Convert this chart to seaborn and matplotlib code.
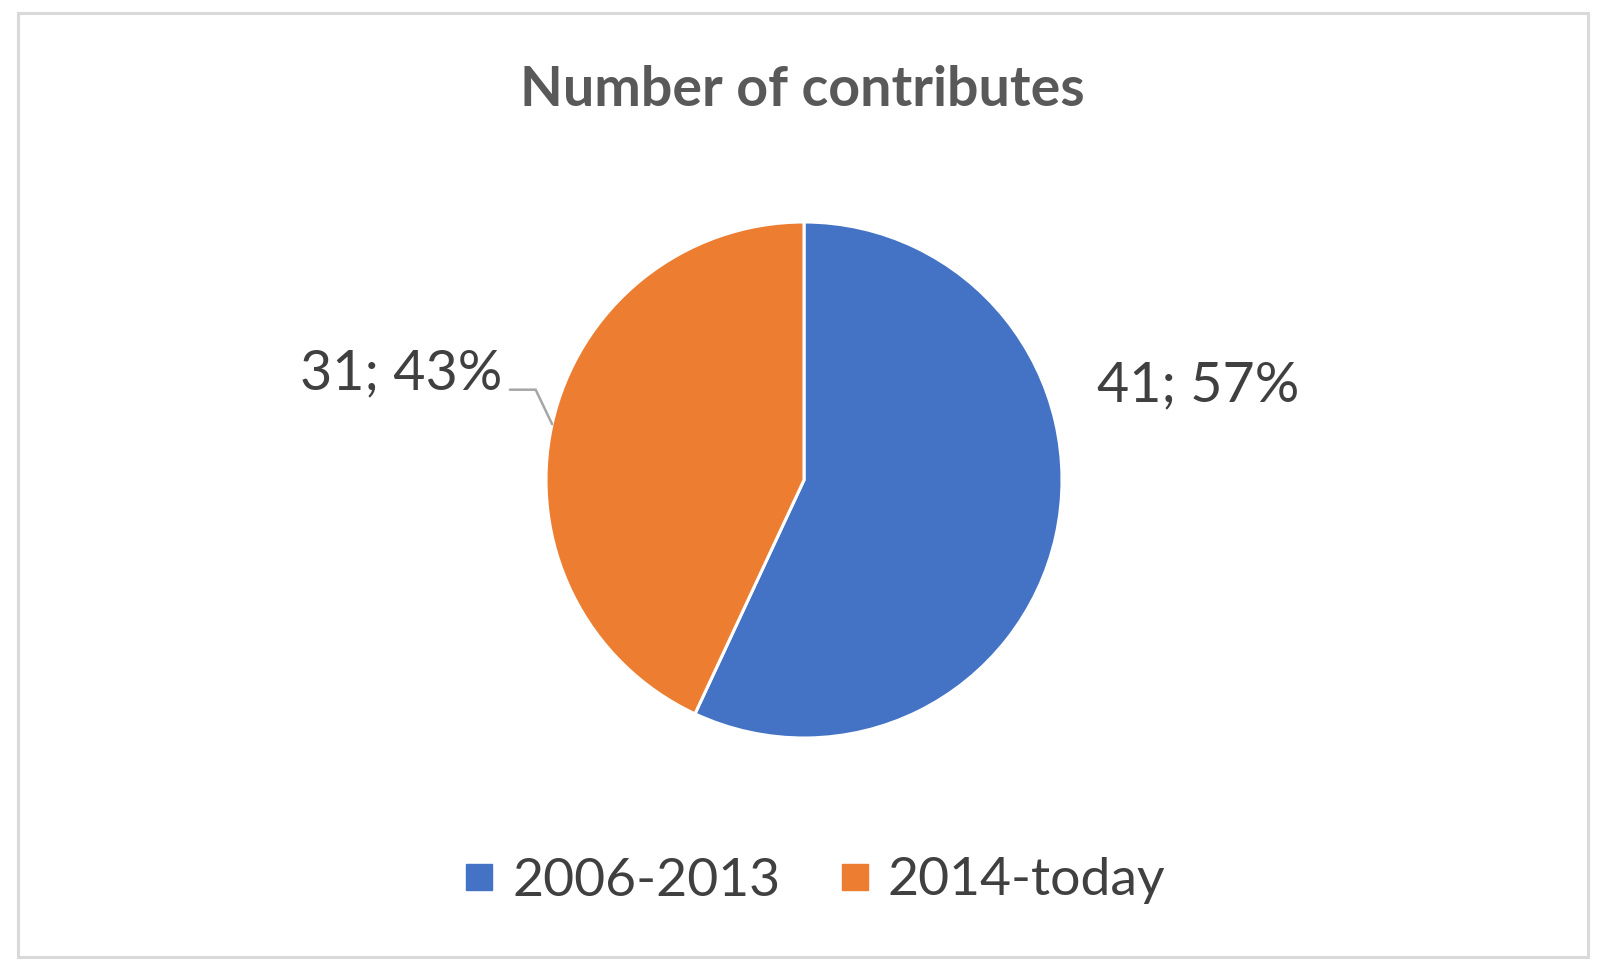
import numpy as np
import seaborn as sns
import matplotlib.pyplot as plt
from matplotlib.lines import Line2D
from matplotlib.patches import Rectangle

# data
periods = ["2006-2013", "2014-today"]
counts = [41, 31]
colors = ["#4472C4", "#ED7D31"]
title = "Number of contributes"

sns.set_theme(style="white")
plt.rcParams["font.family"] = ["Lato", "DejaVu Sans"]

W, H = 1600, 977
fig = plt.figure(figsize=(W / 100, H / 100), dpi=100)

# pie axes, centre (804, 480) px, radius 258 px
cx, cy, r = 804, 480, 258
ax = fig.add_axes([(cx - r) / W, (H - cy - r) / H, 2 * r / W, 2 * r / H])
wedges, _ = ax.pie(counts, colors=colors, startangle=90, counterclock=False,
                   wedgeprops=dict(edgecolor="white", linewidth=2.2))
ax.set_xlim(-1, 1)
ax.set_ylim(-1, 1)
ax.set_aspect("equal")
ax.axis("off")

total = sum(counts)
labels = [f"{c}; {round(100 * c / total)}%" for c in counts]
txt_color = "#404040"

# blue label on the right
ax.text(1.137, 0.305, labels[0], ha="left", va="baseline", fontsize=40, color=txt_color)

# orange label on the left with leader line
w = wedges[1]
mid = np.deg2rad((w.theta1 + w.theta2) / 2)
px, py = np.cos(mid), np.sin(mid)
ax.plot([-1.14, -1.04, px], [0.35, 0.35, py], color="#a6a6a6", lw=1.8,
        clip_on=False, solid_joinstyle="miter")
ax.text(-1.17, 0.35, labels[1], ha="right", va="baseline", fontsize=40, color=txt_color)

# title
fig.text(802 / W, 1 - 106 / H, title, ha="center", va="baseline",
         fontsize=40, fontweight="bold", color="#595959")

# legend
handles = [Line2D([], [], marker="s", linestyle="none", markersize=19,
                  markerfacecolor=c, markeredgecolor=c) for c in colors]
fig.legend(handles, periods, loc="center", bbox_to_anchor=(815 / W, 1 - 881 / H),
           ncol=2, frameon=False, fontsize=38.5, handlelength=0.55,
           handletextpad=0.34, columnspacing=1.12, labelcolor=txt_color)

# chart border
fig.patches.append(Rectangle((18 / W, 1 - 957 / H), 1570 / W, 944 / H,
                             transform=fig.transFigure, fill=False,
                             edgecolor="#d9d9d9", linewidth=2.2))

fig.savefig("out.png", dpi=100)
